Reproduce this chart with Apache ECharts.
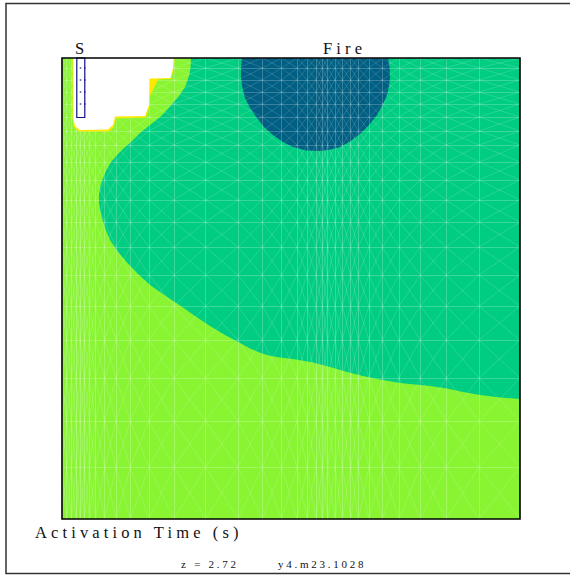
<!DOCTYPE html>
<html>
<head>
<meta charset="utf-8">
<title>Activation Time</title>
<script src="https://cdn.jsdelivr.net/npm/echarts@6/dist/echarts.min.js"></script>
<style>
  html, body { margin: 0; background: #fff; }
  #main { width: 570px; height: 575px; }
  /* old plotting-package look: widely spaced letters */
  #main svg text { letter-spacing: 0.25em; }
</style>
</head>
<body>
<div id="main"></div>
<script>
// mesh node positions
const meshX = [62, 66.7, 71.5, 76, 80, 84.5, 89.5, 95.5, 104.7, 116, 130.3, 149, 174, 205.7, 238, 262.3, 281.7, 297, 307,
  316, 322.3, 327.7, 335, 342.3, 350.7, 358.3, 369, 382.5, 399, 420.3, 446.2, 479, 520];
const meshY = [58, 68, 80, 92, 104, 117, 131, 145, 162, 180, 200, 222, 247, 275, 306, 340, 378, 421, 467, 519];

// contour bands
const band1 = [[62, 58], [520, 58], [520, 519], [62, 519]];
const band2 = [[191, 58], [190.5, 68], [189, 76], [185, 87], [179, 96], [173, 103], [166, 111], [160, 117], [150, 125],
  [140, 133], [131, 142], [123, 149], [117, 155], [111, 162], [106.5, 170], [103, 178], [100.5, 186], [99, 194], [99, 202],
  [100, 210], [102, 218], [105.5, 229], [110, 240], [118, 252], [127, 262.5], [138, 274], [150, 285], [165, 295.5], [180, 305.5],
  [195, 316], [210, 326], [225, 335], [240, 343], [251, 349], [262, 353.5], [271, 356], [280, 357.5], [296, 359.5],
  [313, 362.5], [330, 367], [347, 372], [363, 376], [380, 379.5], [400, 383], [430, 386], [447, 388.5], [463, 392],
  [480, 395], [500, 397.5], [520, 399], [520, 58]];
const band3 = [[242, 58], [241, 68], [241, 78], [242.5, 88], [245, 98], [250, 108], [257, 118], [264, 127], [273, 135],
  [283, 142], [293, 147], [306, 150.5], [320, 151], [331, 149.5], [340, 147], [350, 141.5], [360, 134], [369, 125], [377, 115],
  [382.5, 105], [387, 95], [389, 86], [390, 77], [389.5, 67], [388, 58]];
const frontEdge = [[72.5, 58], [72.5, 118], [74, 127], [79, 131.5], [109, 131.5], [114, 127], [115.5, 118.5], [146, 117.5],
  [149.5, 107], [150, 96], [158, 79.5], [171, 79], [174, 68], [174.5, 58]];
const unburnt = [[73.5, 58], [73.5, 118], [75, 126], [80, 130], [108, 129.5], [113, 125], [115, 116.5], [145, 116],
  [149, 105], [149.5, 78.5], [170.5, 78], [173, 68], [173.5, 58]];

const sensor = [[76.8, 58], [84.8, 58], [84.8, 117.5], [76.8, 117.5]];
const sensorNodes = [[80.5, 68], [80.5, 80], [80.5, 92], [80.5, 104], [84.8, 68], [84.8, 80], [84.8, 92], [84.8, 104]];
const plotBox = [[62, 58], [520, 58], [520, 519], [62, 519]];

const bandColors = ['#88f432', '#00cd82', '#005f82'];
const meshColor = 'rgba(255,255,255,0.22)';
const diagColor = 'rgba(255,255,255,0.25)';

// straight lines + both diagonals of every cell
let meshLines = [];
let meshDiags = [];
meshX.forEach((x) => meshLines.push([x, meshY[0], x, meshY[meshY.length - 1]]));
meshY.forEach((y) => meshLines.push([meshX[0], y, meshX[meshX.length - 1], y]));
for (let i = 0; i < meshX.length - 1; i++) {
  for (let j = 0; j < meshY.length - 1; j++) {
    meshDiags.push([meshX[i], meshY[j], meshX[i + 1], meshY[j + 1]]);
    meshDiags.push([meshX[i + 1], meshY[j], meshX[i], meshY[j + 1]]);
  }
}

function polygonSeries(points, style) {
  return {
    type: 'custom',
    coordinateSystem: 'cartesian2d',
    silent: true,
    animation: false,
    clip: false,
    data: [0],
    renderItem: (params, api) => ({
      type: 'polygon',
      shape: { points: points.map((p) => api.coord(p)) },
      style: style,
    }),
  };
}

function segmentSeries(segments, color, width, snap) {
  const pos = (v) => (snap ? Math.floor(v) + 0.5 : v);
  return {
    type: 'custom',
    coordinateSystem: 'cartesian2d',
    silent: true,
    animation: false,
    data: segments,
    renderItem: (params, api) => {
      const a = api.coord([api.value(0), api.value(1)]);
      const b = api.coord([api.value(2), api.value(3)]);
      return {
        type: 'line',
        shape: { x1: pos(a[0]), y1: pos(a[1]), x2: pos(b[0]), y2: pos(b[1]) },
        style: { stroke: color, lineWidth: width, fill: null },
      };
    },
  };
}

const textFont = 'Liberation Serif';

// baseline is the y given, the text box is placed from its top
function label(text, x, baseline, size) {
  return {
    type: 'text',
    x: x,
    y: baseline - 0.88 * size,
    silent: true,
    style: { text: text, fill: '#111', font: size + 'px "' + textFont + '"' },
  };
}

const chart = echarts.init(document.getElementById('main'), null, { renderer: 'svg' });

chart.setOption({
  animation: false,
  backgroundColor: '#fff',
  grid: { left: 62, top: 58, width: 458, height: 461 },
  xAxis: { type: 'value', min: 62, max: 520, show: false },
  yAxis: { type: 'value', min: 58, max: 519, inverse: true, show: false },
  graphic: [
    {
      type: 'polyline',
      silent: true,
      shape: { points: [[590, 3.5], [6, 3.5], [6, 573.5], [590, 573.5]] },
      style: { stroke: '#333', lineWidth: 1.5, fill: null },
    },
    label('S', 75, 55, 16.5),
    label('Fire', 323, 55, 16.5),
    label('Activation Time (s)', 35, 539, 16.5),
    label('z = 2.72', 181, 568, 11),
    label('y4.m23.1028', 278, 568, 11),
  ],
  series: [
    polygonSeries(band1, { fill: bandColors[0] }),
    polygonSeries(band2, { fill: bandColors[1] }),
    polygonSeries(band3, { fill: bandColors[2] }),
    segmentSeries(meshDiags, diagColor, 0.6, false),
    segmentSeries(meshLines, meshColor, 1, true),
    polygonSeries(frontEdge, { fill: '#ffe800' }),
    polygonSeries(unburnt, { fill: '#ffffff' }),
    {
      type: 'scatter',
      silent: true,
      animation: false,
      symbol: 'rect',
      symbolSize: 1.5,
      itemStyle: { color: '#1a1a8c' },
      data: sensorNodes,
    },
    polygonSeries(sensor, { fill: 'none', stroke: '#10108c', lineWidth: 1.2 }),
    polygonSeries(plotBox, { fill: 'none', stroke: '#000', lineWidth: 1.6 }),
  ],
});
</script>
</body>
</html>
